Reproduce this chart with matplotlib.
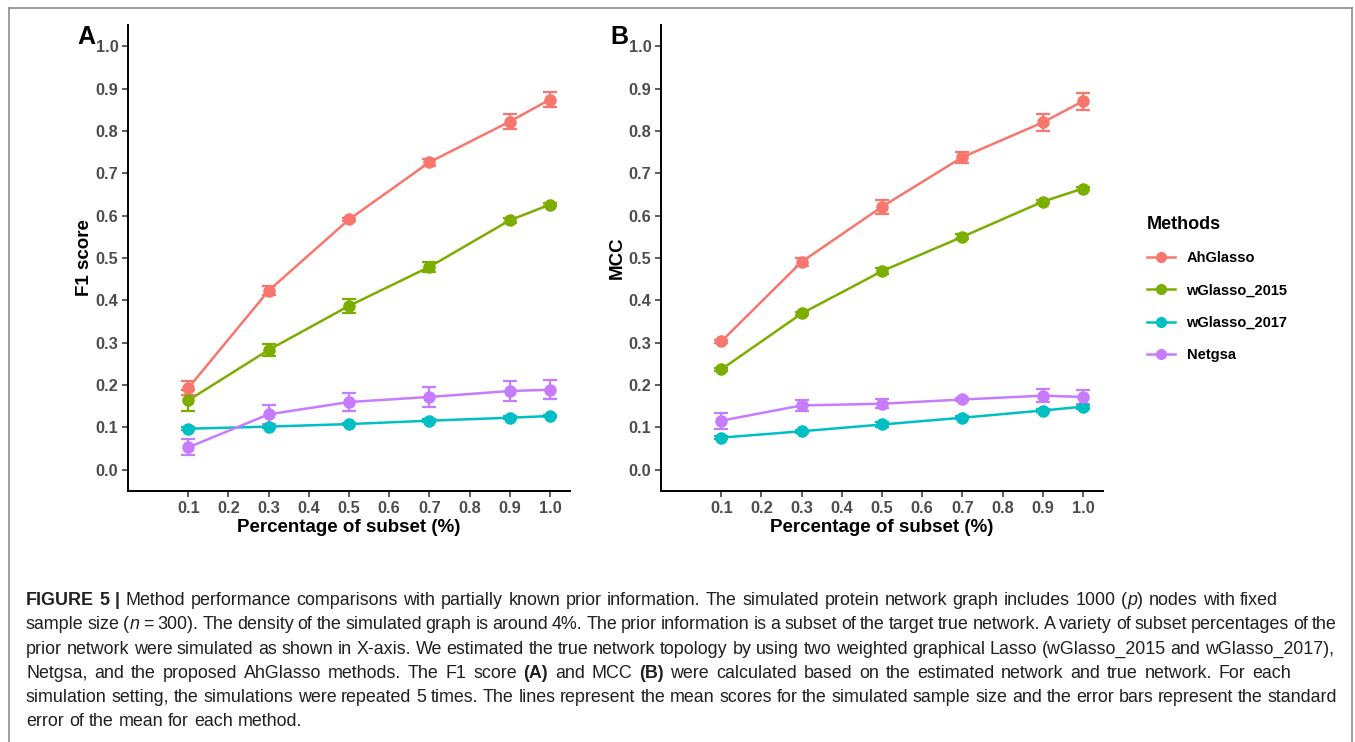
import matplotlib
matplotlib.use("Agg")
import matplotlib.pyplot as plt
from matplotlib.lines import Line2D
from matplotlib.transforms import IdentityTransform

# subset percentages on the x axis
subset = [0.1, 0.3, 0.5, 0.7, 0.9, 1.0]
methods = ["AhGlasso", "wGlasso_2015", "wGlasso_2017", "Netgsa"]
colors = ["#F8766D", "#7CAE00", "#00BFC4", "#C77CFF"]

# panel A: F1 score (mean, standard error)
f1_ahglasso = [0.193, 0.423, 0.591, 0.726, 0.822, 0.874]
f1_ahglasso_se = [0.016, 0.010, 0.004, 0.008, 0.018, 0.018]
f1_wglasso2015 = [0.164, 0.283, 0.387, 0.479, 0.589, 0.626]
f1_wglasso2015_se = [0.025, 0.015, 0.016, 0.012, 0.006, 0.004]
f1_wglasso2017 = [0.097, 0.102, 0.108, 0.116, 0.123, 0.127]
f1_wglasso2017_se = [0.003, 0.003, 0.003, 0.003, 0.003, 0.003]
f1_netgsa = [0.053, 0.131, 0.160, 0.172, 0.186, 0.189]
f1_netgsa_se = [0.019, 0.022, 0.021, 0.023, 0.024, 0.023]

# panel B: MCC (mean, standard error)
mcc_ahglasso = [0.303, 0.491, 0.621, 0.738, 0.820, 0.870]
mcc_ahglasso_se = [0.004, 0.009, 0.017, 0.013, 0.021, 0.020]
mcc_wglasso2015 = [0.237, 0.369, 0.469, 0.550, 0.633, 0.664]
mcc_wglasso2015_se = [0.003, 0.004, 0.007, 0.006, 0.003, 0.003]
mcc_wglasso2017 = [0.076, 0.091, 0.107, 0.123, 0.140, 0.149]
mcc_wglasso2017_se = [0.003, 0.004, 0.005, 0.004, 0.004, 0.005]
mcc_netgsa = [0.116, 0.152, 0.156, 0.166, 0.175, 0.172]
mcc_netgsa_se = [0.019, 0.012, 0.010, 0.004, 0.016, 0.016]

xticks = [0.1, 0.2, 0.3, 0.4, 0.5, 0.6, 0.7, 0.8, 0.9, 1.0]
yticks = [0.0, 0.1, 0.2, 0.3, 0.4, 0.5, 0.6, 0.7, 0.8, 0.9, 1.0]

caption = [
    [("FIGURE 5 |", "bold"), (" Method performance comparisons with partially known prior information. The simulated protein network graph includes 1000 (", "normal"),
     ("p", "italic"), (") nodes with fixed", "normal")],
    [("sample size (", "normal"), ("n", "italic"),
     (" = 300). The density of the simulated graph is around 4%. The prior information is a subset of the target true network. A variety of subset percentages of the", "normal")],
    [("prior network were simulated as shown in X-axis. We estimated the true network topology by using two weighted graphical Lasso (wGlasso_2015 and wGlasso_2017),", "normal")],
    [("Netgsa, and the proposed AhGlasso methods. The F1 score ", "normal"), ("(A)", "bold"), (" and MCC ", "normal"), ("(B)", "bold"),
     (" were calculated based on the estimated network and true network. For each", "normal")],
    [("simulation setting, the simulations were repeated 5 times. The lines represent the mean scores for the simulated sample size and the error bars represent the standard", "normal")],
    [("error of the mean for each method.", "normal")],
]
# right end (px) of each caption line in the page layout, None = ragged
caption_ends = [1278, 1337, 1334, 1291, 1337, None]

plt.rcParams['font.family'] = ['Liberation Sans', 'DejaVu Sans']

W, H = 1355, 742
fig = plt.figure(figsize=(W / 100, H / 100), dpi=100)

# grey frame around the figure (bottom edge is cut off)
fig.add_artist(Line2D([9 / W, 9 / W], [0, 1 - 8 / H], color="#8c8c8c", lw=1.2))
fig.add_artist(Line2D([9 / W, 1352 / W], [1 - 8 / H, 1 - 8 / H], color="#8c8c8c", lw=1.2))
fig.add_artist(Line2D([1352 / W, 1352 / W], [0, 1 - 8 / H], color="#8c8c8c", lw=1.2))


def panel(left, means, errs, ylabel, letter):
    ax = fig.add_axes([left / W, 1 - 491 / H, 442 / W, 466 / H])
    for m, e, c in zip(means, errs, colors):
        ax.plot(subset, m, color=c, lw=1.8, zorder=2)
        ax.errorbar(subset, m, yerr=e, fmt="o", color=c, ms=8, elinewidth=1.6,
                    capsize=5, capthick=1.6, zorder=3)
    ax.set_xlim(-0.05, 1.05)
    ax.set_ylim(-0.05, 1.05)
    ax.set_xticks(xticks)
    ax.set_yticks(yticks)
    ax.set_xticklabels(["%.1f" % v for v in xticks])
    ax.set_yticklabels(["%.1f" % v for v in yticks])
    for s in ["top", "right"]:
        ax.spines[s].set_visible(False)
    for s in ["left", "bottom"]:
        ax.spines[s].set_linewidth(1.4)
    ax.tick_params(direction="out", length=4, width=1.1, color="#333333",
                   labelsize=11.8, labelcolor="#4D4D4D", pad=3)
    for lab in ax.get_xticklabels() + ax.get_yticklabels():
        lab.set_fontweight("bold")
    ax.set_xlabel("Percentage of subset (%)", fontsize=13.5, fontweight="bold")
    ax.xaxis.set_label_coords(0.5, -0.060)
    ax.set_ylabel(ylabel, fontsize=13.5, fontweight="bold")
    ax.yaxis.set_label_coords(-0.080, 0.5)
    fig.text((left - 51) / W, 1 - 37 / H, letter, fontsize=18, fontweight="bold",
             ha="left", va="center")
    return ax


panel(128, [f1_ahglasso, f1_wglasso2015, f1_wglasso2017, f1_netgsa],
      [f1_ahglasso_se, f1_wglasso2015_se, f1_wglasso2017_se, f1_netgsa_se],
      "F1 score", "A")
panel(661, [mcc_ahglasso, mcc_wglasso2015, mcc_wglasso2017, mcc_netgsa],
      [mcc_ahglasso_se, mcc_wglasso2015_se, mcc_wglasso2017_se, mcc_netgsa_se],
      "MCC", "B")

handles = [Line2D([], [], color=c, marker="o", ms=7, lw=1.8) for c in colors]
leg = fig.legend(handles, methods, loc="upper left", bbox_to_anchor=(1134 / W, 1 - 203 / H),
                 frameon=False, title="Methods", prop={"size": 10.5, "weight": "bold"},
                 title_fontproperties={"size": 13, "weight": "bold"},
                 handlelength=1.9, handletextpad=0.8, labelspacing=1.25)
leg._legend_box.align = "left"

# caption: words placed one by one so bold / italic bits sit inline and
# the word gaps can be stretched or squeezed to the original line ends
renderer = fig.canvas.get_renderer()
cap_size = 12.9
cap_x0 = 26


def style_kw(style):
    return dict(fontsize=cap_size,
                fontweight="bold" if style == "bold" else "normal",
                fontstyle="italic" if style == "italic" else "normal")


def width_of(txt, style):
    t = fig.text(0, 0, txt, transform=IdentityTransform(), **style_kw(style))
    w = t.get_window_extent(renderer).width
    t.remove()
    return w


space_w = width_of("a a", "normal") - width_of("aa", "normal")

for i, line in enumerate(caption):
    # split runs into words; flag = a space comes before this word
    pieces = []
    pending = False
    for txt, style in line:
        for k, p in enumerate(txt.split(" ")):
            if k > 0:
                pending = True
            if p == "":
                continue
            pieces.append((p, style, pending))
            pending = False
    widths = [width_of(p, s) for p, s, g in pieces]
    ngaps = sum(1 for p in pieces[1:] if p[2])
    natural = sum(widths) + ngaps * space_w
    extra = 0.0
    if caption_ends[i] is not None and ngaps:
        extra = max(-0.6 * space_w, (caption_ends[i] - cap_x0 - natural) / ngaps)
    x = cap_x0
    y = H - 605 - i * 24.3
    for j, (p, s, g) in enumerate(pieces):
        if j > 0 and g:
            x += space_w + extra
        fig.text(x, y, p, transform=IdentityTransform(), color="#231F20",
                 ha="left", va="baseline", **style_kw(s))
        x += widths[j]

fig.savefig("out.png", dpi=100)
